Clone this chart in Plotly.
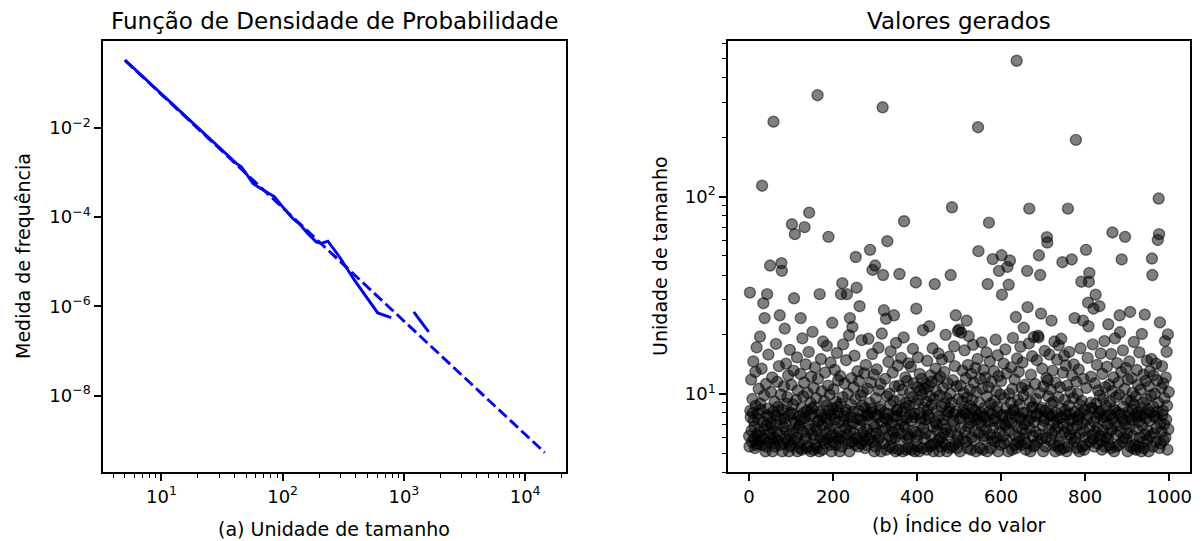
import plotly.graph_objects as go

# ---- Left panel: empirical PDF (solid) and fitted power law (dashed) ----
pdf_x = [5.0, 7.1, 10.1, 14.3, 20.3, 28.8, 41.5, 45.6, 56.9, 62.5, 85.7, 97.3,
         121.0, 138.0, 161.0, 189.0, 208.0, 236.0, 294.0, 391.0, 608.0, 785.0,
         None, 1205.0, 1600.0]
pdf_y = [0.330, 0.1355, 0.0558, 0.02323, 0.00962, 0.00398, 1.59e-3, 1.34e-3,
         5.66e-4, 4.75e-4, 2.84e-4, 1.85e-4, 9.3e-5, 6.93e-5, 4.29e-5, 2.78e-5,
         2.56e-5, 2.88e-5, 1.28e-5, 3.85e-6, 7.11e-7, 5.61e-7,
         None, 7.48e-7, 2.67e-7]
fit_x = [5.0, 14500.0]
fit_y = [0.324, 5.3e-10]

# ---- Right panel: generated values (index order) ----
valores = [
    6.1, 5.4, 32.6, 8.2, 7.6, 11.8, 6.5, 5.7, 9.4, 8.0, 14.6, 7.3, 5.9, 6.8, 5.3, 12.9, 8.7, 5.5, 17.2, 6.2,
    5.6, 7.9, 7.4, 10.6, 6.4, 5.8, 19.5, 8.9, 8.3, 6.1, 13.4, 113.6, 5.5, 7.2, 28.8, 5.9, 9.8, 24.2, 6.6, 5.1,
    11.2, 5.4, 6.9, 32.0, 7.8, 8.4, 15.8, 5.7, 7.6, 6.3, 44.7, 7.1, 10.2, 5.9, 6.7, 12.1, 5.1, 8.1, 240.0, 5.6,
    6.0, 9.1, 5.4, 7.0, 17.9, 7.7, 6.4, 11.5, 5.8, 8.6, 8.1, 13.8, 6.2, 25.0, 5.5, 7.4, 9.9, 46.0, 42.0, 5.1,
    8.3, 5.6, 6.8, 10.9, 7.5, 21.4, 7.1, 5.9, 14.2, 6.5, 8.9, 9.6, 5.7, 12.4, 7.8, 5.1, 6.2, 16.7, 5.4, 8.0,
    5.5, 11.1, 72.4, 6.3, 7.9, 8.8, 13.1, 30.5, 5.8, 64.5, 7.2, 7.0, 9.3, 6.0, 15.3, 5.1, 10.4, 6.7, 5.6, 7.7,
    6.9, 5.3, 12.6, 24.2, 7.4, 8.5, 5.2, 19.1, 6.4, 9.7, 8.0, 11.4, 70.0, 7.5, 5.9, 14.1, 6.1, 5.3, 8.2, 10.1,
    5.4, 7.0, 16.3, 83.0, 7.7, 6.6, 9.0, 5.1, 12.2, 7.9, 8.4, 20.6, 6.2, 5.2, 10.7, 8.6, 5.9, 13.6, 6.8, 5.5,
    9.5, 5.3, 6.5, 327.0, 11.9, 7.2, 7.3, 5.1, 32.0, 8.1, 6.0, 15.0, 7.8, 10.3, 6.9, 5.2, 18.4, 7.6, 5.8, 9.2,
    5.6, 12.8, 6.3, 7.5, 8.7, 17.5, 5.9, 7.1, 11.0, 62.5, 8.2, 6.6, 9.9, 5.5, 14.4, 7.8, 5.1, 6.2, 22.9, 8.4,
    5.7, 10.5, 6.8, 7.9, 13.2, 7.4, 5.5, 9.1, 6.0, 16.1, 8.6, 8.0, 11.7, 5.9, 6.4, 7.2, 5.1, 12.3, 8.9, 32.0,
    6.1, 5.4, 36.4, 9.6, 17.8, 7.3, 7.7, 11.3, 5.8, 6.7, 8.3, 14.8, 8.0, 32.0, 6.2, 10.0, 5.6, 7.0, 19.8, 5.1,
    24.2, 6.5, 7.6, 8.8, 12.0, 5.7, 21.8, 7.1, 8.1, 10.8, 6.3, 15.6, 5.5, 9.4, 49.4, 5.9, 34.5, 7.5, 13.0, 6.0,
    5.4, 8.2, 11.6, 27.8, 7.4, 6.9, 9.8, 5.6, 18.7, 7.3, 8.7, 10.2, 6.4, 5.8, 12.7, 8.5, 5.3, 6.1, 14.0, 7.8,
    5.5, 6.6, 10.6, 7.7, 19.0, 7.9, 5.9, 9.0, 53.7, 6.2, 11.4, 8.0, 8.4, 15.9, 42.5, 5.7, 7.0, 12.5, 5.1, 6.8,
    44.7, 5.4, 9.5, 6.3, 13.3, 7.8, 7.6, 5.8, 17.1, 10.4, 6.0, 8.3, 8.6, 11.2, 5.1, 7.2, 20.2, 6.5, 284.0, 40.0,
    5.6, 26.5, 8.0, 7.5, 11.9, 6.7, 24.0, 5.2, 9.7, 59.4, 7.4, 7.9, 14.5, 6.1, 10.0, 5.4, 8.8, 16.4, 5.9, 6.9,
    7.1, 5.3, 12.8, 6.4, 9.2, 25.0, 7.7, 10.9, 6.0, 5.1, 18.1, 7.7, 8.2, 8.3, 13.9, 6.6, 5.2, 11.0, 40.5, 9.3,
    5.8, 6.3, 15.2, 7.3, 8.1, 10.5, 5.1, 7.0, 19.3, 75.0, 6.8, 8.5, 12.1, 9.0, 5.2, 7.5, 11.6, 5.9, 6.2, 14.3,
    5.3, 8.7, 6.0, 10.1, 7.9, 13.7, 7.3, 5.2, 9.6, 6.5, 16.9, 7.6, 11.3, 7.9, 5.1, 6.4, 8.9, 36.7, 27.0, 5.8,
    10.8, 5.4, 15.3, 9.3, 6.2, 5.1, 12.6, 8.0, 10.4, 7.5, 7.1, 11.9, 9.9, 5.3, 21.0, 6.7, 8.5, 10.6, 5.9, 7.4,
    6.3, 11.2, 9.1, 5.2, 14.7, 8.3, 7.8, 10.9, 7.6, 22.0, 5.4, 9.7, 12.4, 6.1, 5.5, 11.5, 8.8, 17.0, 6.8, 5.1,
    9.4, 5.6, 36.0, 7.2, 13.4, 10.3, 7.0, 8.2, 6.5, 11.8, 5.8, 16.0, 7.7, 5.1, 9.8, 12.2, 6.0, 5.4, 8.6, 14.9,
    5.7, 7.0, 10.7, 6.3, 7.4, 12.9, 8.9, 5.5, 19.9, 6.6, 9.5, 5.1, 7.8, 11.3, 8.1, 6.2, 15.4, 8.4, 5.3, 10.0,
    40.0, 6.4, 9.0, 88.3, 5.4, 11.7, 7.3, 7.9, 17.4, 6.9, 13.8, 5.6, 25.0, 8.1, 10.9, 5.3, 6.1, 20.8, 9.4, 5.8,
    21.2, 7.5, 5.1, 11.0, 6.7, 20.4, 7.7, 9.1, 13.1, 5.9, 8.3, 10.1, 8.0, 16.6, 6.4, 7.9, 12.0, 5.7, 23.5, 9.6,
    5.3, 14.0, 6.8, 19.6, 8.7, 7.4, 10.5, 7.1, 5.2, 12.6, 6.0, 9.3, 8.4, 17.7, 7.6, 11.4, 5.8, 6.5, 8.2, 13.5,
    5.1, 10.2, 7.4, 7.8, 15.0, 225.0, 52.9, 6.3, 9.0, 5.3, 11.9, 8.0, 7.2, 6.9, 18.2, 10.6, 5.2, 7.7, 13.2, 6.1,
    5.9, 8.5, 12.1, 7.6, 6.6, 16.2, 9.7, 5.1, 36.0, 7.2, 10.8, 73.8, 8.1, 14.6, 6.2, 8.9, 5.3, 11.5, 7.9, 5.8,
    48.2, 6.7, 7.3, 13.0, 9.2, 5.7, 7.5, 18.8, 6.0, 10.3, 8.6, 8.1, 15.7, 5.1, 12.3, 42.0, 6.4, 7.0, 9.9, 5.5,
    11.6, 50.4, 31.8, 7.7, 7.8, 6.1, 14.2, 5.6, 9.5, 7.0, 16.8, 6.9, 8.4, 12.7, 5.8, 44.0, 7.3, 5.1, 35.7, 10.0,
    6.5, 47.4, 7.9, 9.0, 13.6, 7.1, 5.2, 10.6, 19.2, 8.2, 8.3, 6.2, 11.8, 5.5, 7.7, 24.5, 5.3, 489.0, 15.1, 6.8,
    9.3, 5.7, 12.9, 6.0, 8.8, 7.6, 17.3, 7.4, 5.5, 10.7, 6.6, 14.4, 8.0, 9.8, 21.6, 5.9, 7.0, 11.1, 6.3, 5.2,
    8.0, 5.6, 42.0, 27.5, 10.4, 7.3, 18.0, 86.9, 6.7, 9.1, 5.1, 12.5, 7.6, 8.5, 15.5, 6.1, 8.6, 5.4, 19.4, 7.2,
    5.5, 11.2, 6.4, 9.4, 7.7, 14.8, 7.9, 5.7, 19.7, 19.3, 50.4, 6.2, 10.1, 40.0, 8.3, 25.5, 8.5, 5.9, 13.4, 6.9,
    5.1, 10.9, 7.3, 7.5, 16.5, 8.2, 5.4, 6.0, 12.0, 62.3, 58.5, 11.7, 9.7, 7.9, 6.6, 15.8, 7.7, 5.8, 10.5, 8.9,
    23.5, 6.3, 7.8, 13.1, 9.1, 5.5, 7.1, 18.4, 6.5, 5.1, 11.4, 8.0, 7.4, 14.9, 6.8, 5.4, 9.6, 17.6, 5.7, 7.5,
    10.8, 5.2, 6.1, 19.0, 8.4, 7.6, 46.5, 12.8, 7.0, 5.3, 15.6, 6.4, 9.3, 8.2, 13.9, 7.8, 5.1, 11.0, 6.7, 86.9,
    5.4, 8.7, 16.3, 6.2, 7.9, 10.2, 7.3, 5.9, 48.0, 12.4, 6.6, 7.5, 9.5, 14.1, 5.7, 24.2, 8.1, 6.0, 194.0, 11.5,
    5.3, 6.9, 10.0, 7.4, 7.7, 13.3, 5.1, 8.8, 6.3, 17.0, 8.0, 37.0, 9.2, 5.4, 7.1, 23.5, 11.9, 6.5, 5.2, 8.3,
    6.0, 5.5, 53.7, 10.7, 7.4, 7.8, 15.2, 29.0, 22.0, 37.0, 41.0, 6.8, 5.7, 9.0, 12.2, 8.4, 8.5, 6.2, 17.8, 5.9,
    27.0, 7.2, 5.4, 11.3, 6.4, 31.8, 8.9, 7.6, 14.0, 6.7, 5.6, 10.4, 7.9, 8.1, 27.8, 9.8, 6.1, 16.0, 5.8, 8.2,
    5.2, 12.6, 6.5, 9.4, 7.3, 7.6, 18.5, 5.4, 10.8, 6.0, 8.7, 7.7, 13.7, 7.0, 5.9, 22.5, 6.3, 11.1, 5.5, 9.1,
    7.8, 5.3, 15.9, 6.6, 10.3, 65.8, 7.5, 8.4, 12.1, 5.1, 7.1, 19.1, 8.2, 9.6, 6.2, 5.4, 14.3, 8.0, 6.9, 11.4,
    5.5, 9.9, 25.0, 20.5, 6.4, 7.9, 12.9, 48.0, 7.5, 5.7, 16.6, 8.6, 6.0, 7.3, 10.6, 62.5, 7.0, 13.5, 5.9, 9.3,
    6.3, 5.1, 11.8, 8.1, 7.7, 14.6, 6.8, 26.0, 5.4, 9.2, 7.4, 12.0, 8.3, 10.1, 6.1, 5.3, 18.3, 8.8, 5.5, 7.7,
    9.7, 5.2, 6.6, 13.2, 7.6, 8.0, 11.1, 5.4, 7.2, 16.2, 6.0, 7.8, 10.5, 8.5, 5.1, 20.1, 6.9, 9.0, 5.7, 12.5,
    5.3, 7.9, 25.2, 6.2, 11.6, 7.5, 9.4, 14.7, 5.8, 6.5, 8.3, 5.1, 10.9, 7.3, 13.0, 8.0, 6.1, 9.8, 15.0, 48.5,
    40.0, 5.4, 8.6, 12.4, 6.3, 7.7, 10.0, 7.6, 5.7, 14.2, 6.7, 11.7, 8.1, 60.3, 9.0, 97.8, 64.5, 5.3, 23.0, 7.1,
    5.6, 10.7, 6.4, 13.8, 7.8, 8.2, 11.3, 5.8, 7.0, 9.5, 18.5, 6.0, 12.1, 7.4, 16.3, 8.7, 5.2, 20.0, 6.6, 10.2,
]
indices = list(range(len(valores)))

# ---- Tick labels ----
left_x_ticks = [10, 100, 1000, 10000]
left_x_labels = ["10<sup>1</sup>", "10<sup>2</sup>", "10<sup>3</sup>", "10<sup>4</sup>"]
left_y_ticks = [1e-2, 1e-4, 1e-6, 1e-8]
left_y_labels = ["10<sup>−2</sup>", "10<sup>−4</sup>", "10<sup>−6</sup>", "10<sup>−8</sup>"]
right_x_ticks = [0, 200, 400, 600, 800, 1000]
right_y_ticks = [10, 100]
right_y_labels = ["10<sup>1</sup>", "10<sup>2</sup>"]

left_x_minor = [k * 10 ** e for e in range(0, 5) for k in range(2, 10)]
right_y_minor = [k * 10 ** e for e in range(0, 3) for k in range(2, 10)]

FONT = "DejaVu Sans"
W, H = 1202, 541
TICK_SIZE = 18
LABEL_SIZE = 19
TITLE_SIZE = 23

fig = go.Figure()
fig.add_trace(go.Scatter(x=pdf_x, y=pdf_y, mode="lines", connectgaps=False,
                         line=dict(color="#0000ff", width=2.9),
                         xaxis="x", yaxis="y", showlegend=False))
fig.add_trace(go.Scatter(x=fit_x, y=fit_y, mode="lines",
                         line=dict(color="#0000ff", width=2.9, dash="11px,4.5px"),
                         xaxis="x", yaxis="y", showlegend=False))
fig.add_trace(go.Scatter(x=indices, y=valores, mode="markers",
                         marker=dict(size=11, color="rgba(0,0,0,0.5)",
                                     line=dict(color="rgba(0,0,0,0.5)", width=1.4)),
                         xaxis="x2", yaxis="y2", showlegend=False))


def px_x(p):
    return p / W


def px_y(p):
    return (H - p) / H


axis_common = dict(showline=True, linecolor="black", linewidth=1.5, mirror=True,
                   showgrid=False, zeroline=False, ticks="outside", ticklen=7,
                   tickwidth=1.5, tickcolor="black",
                   tickfont=dict(family=FONT, size=TICK_SIZE, color="black"))
minor_common = dict(ticks="outside", ticklen=4, tickwidth=1.2, tickcolor="black",
                    tickmode="array", showgrid=False)

fig.update_layout(
    width=W, height=H,
    paper_bgcolor="white", plot_bgcolor="white",
    margin=dict(l=0, r=0, t=0, b=0),
    xaxis=dict(type="log", domain=[px_x(103.3), px_x(566.7)], anchor="y",
               range=[0.519, 4.335], tickmode="array", tickvals=left_x_ticks,
               ticktext=left_x_labels,
               minor=dict(tickvals=left_x_minor, **minor_common),
               **axis_common),
    yaxis=dict(type="log", domain=[px_y(472.4), px_y(40.7)], anchor="x",
               range=[-9.72, -0.05], tickmode="array", tickvals=left_y_ticks,
               ticktext=left_y_labels, **axis_common),
    xaxis2=dict(domain=[px_x(729.3), px_x(1191.7)], anchor="y2",
                range=[-49.95, 1048.95], tickmode="array", tickvals=right_x_ticks,
                **axis_common),
    yaxis2=dict(type="log", domain=[px_y(472.4), px_y(40.7)], anchor="x2",
                range=[0.601, 2.791], tickmode="array", tickvals=right_y_ticks,
                ticktext=right_y_labels,
                minor=dict(tickvals=right_y_minor, **minor_common),
                **axis_common),
)

annotations = [
    dict(text="Função de Densidade de Probabilidade", x=px_x((103.3 + 566.7) / 2), y=px_y(21),
         font=dict(family=FONT, size=TITLE_SIZE, color="black")),
    dict(text="Valores gerados", x=px_x((729.3 + 1191.7) / 2), y=px_y(21),
         font=dict(family=FONT, size=TITLE_SIZE, color="black")),
    dict(text="(a) Unidade de tamanho", x=px_x((103.3 + 566.7) / 2), y=px_y(529),
         font=dict(family=FONT, size=LABEL_SIZE, color="black")),
    dict(text="(b) Índice do valor", x=px_x((729.3 + 1191.7) / 2), y=px_y(525),
         font=dict(family=FONT, size=LABEL_SIZE, color="black")),
    dict(text="Medida de frequência", x=px_x(23), y=px_y(256), textangle=-90,
         font=dict(family=FONT, size=LABEL_SIZE, color="black")),
    dict(text="Unidade de tamanho", x=px_x(661), y=px_y(256), textangle=-90,
         font=dict(family=FONT, size=LABEL_SIZE, color="black")),
]
for a in annotations:
    a.update(xref="paper", yref="paper", showarrow=False, xanchor="center", yanchor="middle")
fig.update_layout(annotations=annotations)

fig.write_html("out.html",
               config={"displayModeBar": False},
               post_script="document.body.style.margin='0px';document.body.style.padding='0px';")
